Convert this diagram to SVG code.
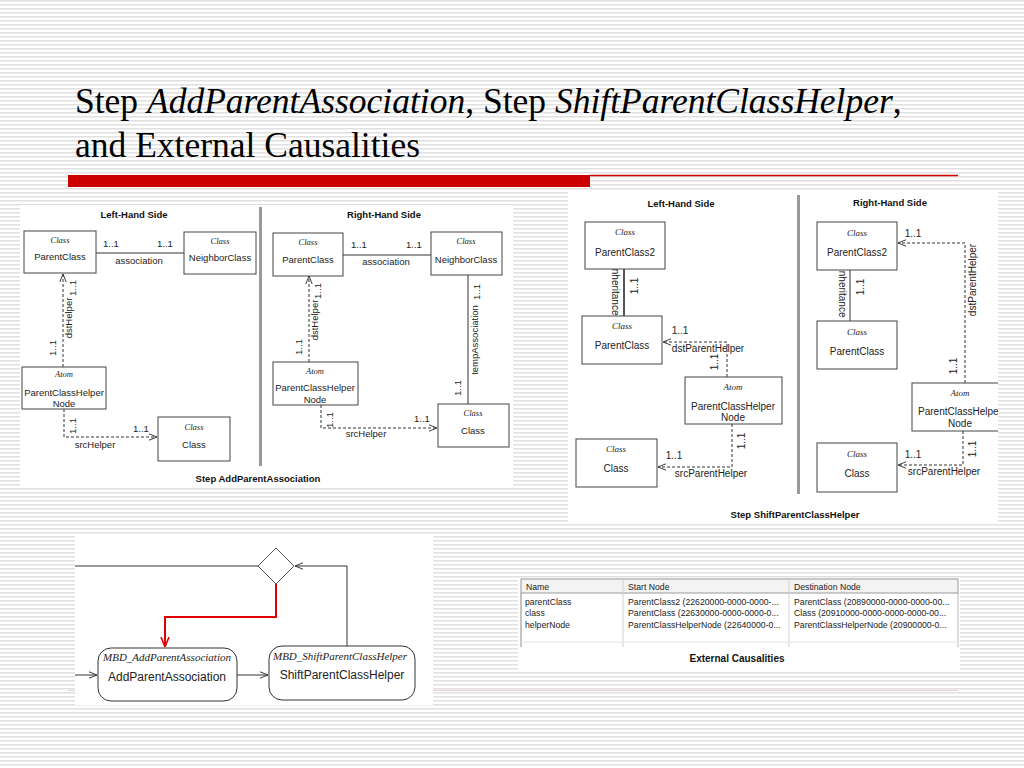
<svg xmlns="http://www.w3.org/2000/svg" width="1024" height="768" viewBox="0 0 1024 768">
<defs>
<pattern id="stripes" width="8" height="4" patternUnits="userSpaceOnUse"><rect x="0" y="0" width="8" height="1.5" fill="#e0e0e0"/></pattern>
<marker id="arr" viewBox="0 0 10 10" refX="10" refY="5" markerWidth="8" markerHeight="8" markerUnits="userSpaceOnUse" orient="auto"><path d="M0,1 L10,5 L0,9" fill="none" stroke="#333" stroke-width="1.2"/></marker>
<marker id="arrRed" viewBox="0 0 10 10" refX="10" refY="5" markerWidth="10" markerHeight="10" markerUnits="userSpaceOnUse" orient="auto"><path d="M0,1 L10,5 L0,9" fill="none" stroke="#e00000" stroke-width="1.6"/></marker>
<clipPath id="clipP2"><rect x="568" y="192" width="430" height="330"/></clipPath>
</defs>
<style>
.bg{fill:#fff}
.panel{fill:#fff}
.box{fill:#fff;stroke:#444;stroke-width:1}
.rbox{fill:#fff;stroke:#333;stroke-width:1}
.t{font-family:"Liberation Sans",Arial,sans-serif;font-size:9.5px;fill:#222;text-anchor:middle}
.t2{font-family:"Liberation Sans",Arial,sans-serif;font-size:10px;fill:#222;text-anchor:middle}
.it{font-family:"Liberation Serif","Times New Roman",serif;font-style:italic;font-size:8.5px;fill:#222;text-anchor:middle}
.it2{font-family:"Liberation Serif","Times New Roman",serif;font-style:italic;font-size:9px;fill:#222;text-anchor:middle}
.hd{font-family:"Liberation Sans",Arial,sans-serif;font-weight:bold;font-size:9.5px;fill:#111;text-anchor:middle}
.sol{stroke:#333;stroke-width:1;fill:none}
.dash{stroke:#333;stroke-width:1;fill:none;stroke-dasharray:3,2}
.div{fill:#9a9a9a}
.title{font-family:"Liberation Serif","Times New Roman",serif;font-size:35.5px;fill:#000}
.tb{font-family:"Liberation Sans",Arial,sans-serif;font-size:8.7px;fill:#222}
</style>
<rect class="bg" x="0" y="0" width="1024" height="768"/>
<rect x="0" y="0" width="1024" height="768" fill="url(#stripes)"/>

<!-- title -->
<text class="title" x="75" y="113">Step <tspan font-style="italic">AddParentAssociation</tspan>, Step <tspan font-style="italic">ShiftParentClassHelper</tspan>,</text>
<text class="title" x="75" y="157">and External Causalities</text>
<rect x="68" y="175" width="522" height="12" fill="#cc0000"/>
<line x1="590" y1="175.5" x2="958" y2="175.5" stroke="#cc0000" stroke-width="1.5"/>
<line x1="68" y1="690.5" x2="958" y2="690.5" stroke="#e8d0d0" stroke-width="1"/>

<!-- panel backgrounds -->
<rect class="panel" x="20" y="205" width="493" height="283"/>
<rect class="panel" x="568" y="192" width="430" height="330"/>
<rect class="panel" x="75" y="535" width="358" height="170"/>
<rect class="panel" x="518" y="578" width="442" height="92"/>

<rect class="div" x="259" y="207" width="3" height="259"/>
<rect class="div" x="797" y="195" width="3" height="299"/>
<text class="hd" x="134" y="218">Left-Hand Side</text>
<text class="hd" x="384" y="218">Right-Hand Side</text>
<text class="hd" x="258" y="482">Step AddParentAssociation</text>
<text class="hd" x="681" y="207">Left-Hand Side</text>
<text class="hd" x="890" y="206">Right-Hand Side</text>
<text class="hd" x="795" y="518">Step ShiftParentClassHelper</text>

<g id="connectors">
 <!-- panel 1 LHS -->
 <line class="sol" x1="96" y1="253" x2="184" y2="253"/>
 <path class="dash" d="M63,367 L63,274" marker-end="url(#arr)"/>
 <path class="dash" d="M64,409 L64,437 L157,437" marker-end="url(#arr)"/>
 <!-- panel 1 RHS -->
 <line class="sol" x1="343" y1="255" x2="431" y2="255"/>
 <path class="dash" d="M309,362 L309,276" marker-end="url(#arr)"/>
 <line class="sol" x1="468" y1="275" x2="468" y2="404"/>
 <path class="dash" d="M321,405 L321,428 L437,428" marker-end="url(#arr)"/>
 <!-- panel 2 LHS -->
 <line x1="624" y1="269" x2="624" y2="316" stroke="#555" stroke-width="2"/>
 <path class="dash" d="M727,377 L727,342 L663,342" marker-end="url(#arr)"/>
 <path class="dash" d="M732,424 L732,467 L658,467" marker-end="url(#arr)"/>
 <!-- panel 2 RHS -->
 <line class="sol" x1="850" y1="270" x2="850" y2="321"/>
 <path class="dash" d="M965,383 L965,243 L898,243" marker-end="url(#arr)"/>
 <path class="dash" d="M963,431 L963,465 L898,465" marker-end="url(#arr)"/>
 <!-- flow -->
 <line class="sol" x1="75" y1="566" x2="258" y2="566"/>
 <path class="sol" d="M347,646 L347,566 L295,566" marker-end="url(#arr)"/>
 <path d="M276,584 L276,617 L165,617 L165,647" fill="none" stroke="#e00000" stroke-width="2" marker-end="url(#arrRed)"/>
 <path class="sol" d="M75,675 L97,675" marker-end="url(#arr)"/>
 <path class="sol" d="M237,675 L268,675" marker-end="url(#arr)"/>
</g>

<!-- panel 1 connector labels -->
<text class="t" x="111" y="247">1..1</text>
<text class="t" x="165" y="247">1..1</text>
<text class="t" x="139" y="264">association</text>
<text class="t" transform="translate(73,288) rotate(-90)" dy="3">1..1</text>
<text class="t" transform="translate(69,318) rotate(-90)" dy="3">dstHelper</text>
<text class="t" transform="translate(53,348) rotate(-90)" dy="3">1..1</text>
<text class="t" transform="translate(73,426) rotate(-90)" dy="3">1..1</text>
<text class="t" x="141" y="432">1..1</text>
<text class="t" x="95" y="448">srcHelper</text>

<text class="t" x="359" y="248">1..1</text>
<text class="t" x="414" y="248">1..1</text>
<text class="t" x="386" y="265">association</text>
<text class="t" transform="translate(318,291) rotate(-90)" dy="3">1..1</text>
<text class="t" transform="translate(315,320) rotate(-90)" dy="3">dstHelper</text>
<text class="t" transform="translate(299,347) rotate(-90)" dy="3">1..1</text>
<text class="t" transform="translate(477,292) rotate(-90)" dy="3">1..1</text>
<text class="t" transform="translate(475,340) rotate(-90)" dy="3">tempAssociation</text>
<text class="t" transform="translate(458,388) rotate(-90)" dy="3">1..1</text>
<text class="t" transform="translate(330,420) rotate(-90)" dy="3">1..1</text>
<text class="t" x="422" y="422">1..1</text>
<text class="t" x="366" y="437">srcHelper</text>

<g id="p1-lhs-parentclass"><rect class="box" x="24" y="231" width="72" height="42"/><text class="it" x="60" y="243">Class</text><text class="t" x="60" y="260">ParentClass</text></g>
<g id="p1-lhs-neighborclass"><rect class="box" x="184" y="232" width="72" height="42"/><text class="it" x="220" y="244">Class</text><text class="t" x="220" y="261">NeighborClass</text></g>
<g id="p1-lhs-atom"><rect class="box" x="22" y="367" width="84" height="42"/><text class="it" x="64" y="377">Atom</text><text class="t" x="64" y="396">ParentClassHelper</text><text class="t" x="64" y="407">Node</text></g>
<g id="p1-lhs-class"><rect class="box" x="158" y="417" width="72" height="44"/><text class="it" x="194" y="430">Class</text><text class="t" x="194" y="448">Class</text></g>

<g id="p1-rhs-parentclass"><rect class="box" x="273" y="233" width="70" height="43"/><text class="it" x="308" y="245">Class</text><text class="t" x="308" y="263">ParentClass</text></g>
<g id="p1-rhs-neighborclass"><rect class="box" x="431" y="232" width="71" height="43"/><text class="it" x="466" y="244">Class</text><text class="t" x="466" y="263">NeighborClass</text></g>
<g id="p1-rhs-atom"><rect class="box" x="273" y="362" width="85" height="43"/><text class="it" x="315" y="374">Atom</text><text class="t" x="315" y="391">ParentClassHelper</text><text class="t" x="315" y="403">Node</text></g>
<g id="p1-rhs-class"><rect class="box" x="438" y="404" width="71" height="43"/><text class="it" x="473" y="416">Class</text><text class="t" x="473" y="434">Class</text></g>

<!-- panel 2 connector labels -->
<text class="t2" transform="translate(615,291) rotate(90)" dy="3">inheritance</text>
<text class="t2" transform="translate(635,286) rotate(-90)" dy="3">1..1</text>
<text class="t2" x="680" y="334">1..1</text>
<text class="t2" x="708" y="352">dstParentHelper</text>
<text class="t2" transform="translate(715,362) rotate(-90)" dy="3">1..1</text>
<text class="t2" transform="translate(742,441) rotate(-90)" dy="3">1..1</text>
<text class="t2" x="674" y="459">1..1</text>
<text class="t2" x="711" y="477">srcParentHelper</text>

<text class="t2" x="913" y="237">1..1</text>
<text class="t2" transform="translate(973,280) rotate(-90)" dy="3">dstParentHelper</text>
<text class="t2" transform="translate(842,293) rotate(90)" dy="3">inheritance</text>
<text class="t2" transform="translate(861,287) rotate(-90)" dy="3">1..1</text>
<text class="t2" transform="translate(954,366) rotate(-90)" dy="3">1..1</text>
<text class="t2" transform="translate(973,449) rotate(-90)" dy="3">1..1</text>
<text class="t2" x="913" y="458">1..1</text>
<text class="t2" x="944" y="475">srcParentHelper</text>

<g id="p2-lhs-parentclass2"><rect class="box" x="585" y="222" width="80" height="47"/><text class="it2" x="625" y="235">Class</text><text class="t2" x="625" y="256">ParentClass2</text></g>
<g id="p2-lhs-parentclass"><rect class="box" x="582" y="316" width="80" height="48"/><text class="it2" x="622" y="329">Class</text><text class="t2" x="622" y="349">ParentClass</text></g>
<g id="p2-lhs-atom"><rect class="box" x="685" y="377" width="97" height="47"/><text class="it2" x="733" y="390">Atom</text><text class="t2" x="733" y="410">ParentClassHelper</text><text class="t2" x="733" y="421">Node</text></g>
<g id="p2-lhs-class"><rect class="box" x="576" y="439" width="81" height="48"/><text class="it2" x="616" y="452">Class</text><text class="t2" x="616" y="472">Class</text></g>

<g id="p2-rhs-parentclass2"><rect class="box" x="817" y="222" width="80" height="48"/><text class="it2" x="857" y="236">Class</text><text class="t2" x="857" y="256">ParentClass2</text></g>
<g id="p2-rhs-parentclass"><rect class="box" x="817" y="321" width="80" height="48"/><text class="it2" x="857" y="335">Class</text><text class="t2" x="857" y="355">ParentClass</text></g>
<g id="p2-rhs-atom" clip-path="url(#clipP2)"><rect class="box" x="912" y="383" width="97" height="48"/><text class="it2" x="960" y="396">Atom</text><text class="t2" x="960" y="415">ParentClassHelper</text><text class="t2" x="960" y="427">Node</text></g>
<g id="p2-rhs-class"><rect class="box" x="817" y="443" width="80" height="49"/><text class="it2" x="857" y="457">Class</text><text class="t2" x="857" y="477">Class</text></g>

<!-- Flow nodes -->
<g id="flow-diamond"><polygon points="258,566 276,548 294,566 276,584" fill="#fff" stroke="#555" stroke-width="1"/></g>
<g id="flow-addparent"><rect class="rbox" x="98" y="648" width="139" height="53" rx="13" ry="13"/><text class="it" style="font-size:11px" x="167" y="661">MBD_AddParentAssociation</text><text class="t" style="font-size:12px" x="167" y="681">AddParentAssociation</text></g>
<g id="flow-shiftparent"><rect class="rbox" x="269" y="646" width="146" height="54" rx="13" ry="13"/><text class="it" style="font-size:11px" x="340" y="660">MBD_ShiftParentClassHelper</text><text class="t" style="font-size:12px" x="342" y="679">ShiftParentClassHelper</text></g>

<!-- Table -->
<g id="table">
 <rect x="521" y="579" width="437" height="14" fill="#f3f3f3" stroke="#999" stroke-width="1"/>
 <line x1="623" y1="579" x2="623" y2="647" stroke="#d0d0d0"/>
 <line x1="789" y1="579" x2="789" y2="647" stroke="#d0d0d0"/>
 <line x1="521" y1="593" x2="521" y2="647" stroke="#888"/>
 <line x1="958" y1="593" x2="958" y2="647" stroke="#bbb"/>
 <line x1="521" y1="642" x2="958" y2="642" stroke="#e4e4e4"/>
 <text class="tb" x="526" y="590">Name</text>
 <text class="tb" x="628" y="590">Start Node</text>
 <text class="tb" x="794" y="590">Destination Node</text>
 <text class="tb" x="525" y="605">parentClass</text>
 <text class="tb" x="628" y="605">ParentClass2 (22620000-0000-0000-...</text>
 <text class="tb" x="794" y="605">ParentClass (20890000-0000-0000-00...</text>
 <text class="tb" x="525" y="616">class</text>
 <text class="tb" x="628" y="616">ParentClass (22630000-0000-0000-0...</text>
 <text class="tb" x="794" y="616">Class (20910000-0000-0000-0000-00...</text>
 <text class="tb" x="525" y="628">helperNode</text>
 <text class="tb" x="628" y="628">ParentClassHelperNode (22640000-0...</text>
 <text class="tb" x="794" y="628">ParentClassHelperNode (20900000-0...</text>
 <text class="hd" style="font-size:10px" x="737" y="662">External Causalities</text>
</g>
</svg>
